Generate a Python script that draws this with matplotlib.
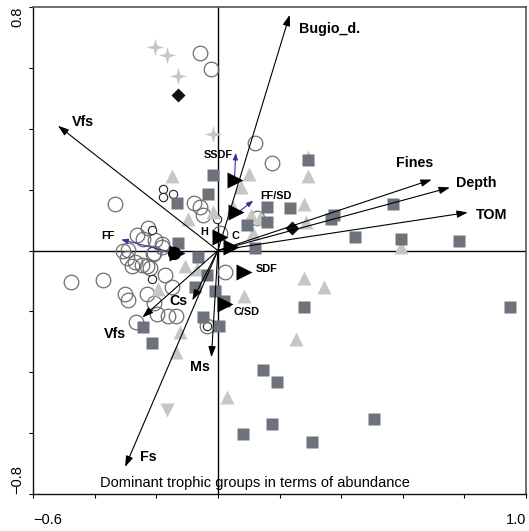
"""
CCA biplot: samples coded by dominant trophic group (abundance),
environmental arrows and trophic-group centroids.
"""

import matplotlib
matplotlib.use("Agg")
import matplotlib.pyplot as plt
from matplotlib.path import Path

plt.rcParams["font.family"] = ["Liberation Sans", "DejaVu Sans"]

# ── Sample scores, one pair of lists per symbol ──────────────────────────────
circle_x = [-0.057, -0.021, 0.119, 0.177, -0.333, -0.076, -0.057, -0.047, 0.128,
            0.008, -0.262, -0.226, -0.242, -0.180, -0.203, -0.294, -0.307, -0.268,
            -0.246, -0.229, -0.278, -0.210, -0.220, -0.171, -0.476, -0.372, -0.148,
            -0.301, -0.291, -0.229, -0.207, -0.197, -0.161, -0.135, -0.265, 0.024,
            -0.034, -0.291, -0.207, -0.180]
circle_y = [0.649, 0.597, 0.354, 0.289, 0.154, 0.157, 0.144, 0.118, 0.108,
            0.059, 0.052, 0.075, 0.039, 0.020, 0.033, -0.023, -0.003, -0.039,
            -0.046, -0.052, -0.052, -0.013, -0.056, -0.079, -0.102, -0.098, -0.121,
            -0.144, -0.161, -0.144, -0.174, -0.207, -0.216, -0.216, -0.236, -0.069,
            -0.249, 0.003, -0.007, 0.013]

small_circle_x = [-0.177, -0.177, -0.145, -0.002, -0.213, -0.213, -0.034]
small_circle_y = [0.203, 0.177, 0.187, 0.105, 0.066, -0.095, -0.249]

triangle_x = [-0.148, 0.076, 0.102, -0.096, -0.015, 0.050, 0.106, 0.138, 0.115,
              0.291, 0.281, 0.285, 0.593, 0.294, -0.106, -0.067, -0.193, -0.122,
              -0.135, 0.028, 0.086, 0.278, 0.343, 0.252]
triangle_y = [0.246, 0.210, 0.252, 0.105, 0.125, 0.144, 0.118, 0.108, 0.059,
              0.246, 0.154, 0.092, 0.013, 0.308, -0.052, -0.062, -0.125, -0.269,
              -0.334, -0.482, -0.151, -0.089, -0.121, -0.292]

square_x = [-0.015, -0.031, -0.132, -0.128, -0.063, -0.034, 0.158, 0.161, 0.096,
            0.233, 0.122, 0.291, 0.376, 0.366, 0.567, 0.444, 0.593, 0.782, 0.281,
            0.948, 0.193, 0.177, 0.307, 0.506, -0.073, -0.008, 0.021, -0.047,
            0.005, -0.242, -0.213, 0.145, 0.083]
square_y = [0.249, 0.187, 0.157, 0.026, -0.020, -0.082, 0.144, 0.095, 0.085,
            0.138, 0.007, 0.298, 0.118, 0.102, 0.154, 0.043, 0.039, 0.030, -0.184,
            -0.184, -0.433, -0.570, -0.630, -0.554, -0.121, -0.134, -0.167, -0.220,
            -0.249, -0.252, -0.305, -0.393, -0.603]

star_x = [-0.203, -0.164, -0.128, -0.015]
star_y = [0.669, 0.643, 0.574, 0.384]

diamond_x = [-0.128, 0.239]
diamond_y = [0.511, 0.075]

down_tri_x = [-0.164]
down_tri_y = [-0.525]

# ── Trophic group centroids ──────────────────────────────────────────────────
group_names = ["SSDF", "FF/SD", "FF", "H", "C", "SDF", "C/SD"]
group_x = [0.057, 0.060, -0.133, 0.008, 0.041, 0.086, 0.024]
group_y = [0.233, 0.125, -0.007, 0.043, 0.013, -0.069, -0.177]
group_label_x = [0.002, 0.190, -0.356, -0.044, 0.057, 0.158, 0.093]
group_label_y = [0.315, 0.180, 0.046, 0.062, 0.046, -0.062, -0.203]

# species arrows (start, end) for three groups
sp_names = ["SSDF", "FF/SD", "FF"]
sp_x0 = [0.054, 0.073, -0.135]
sp_y0 = [0.239, 0.131, -0.010]
sp_x1 = [0.058, 0.115, -0.314]
sp_y1 = [0.321, 0.164, 0.036]

# ── Environmental variables ──────────────────────────────────────────────────
env_names = ["Bugio_d.", "Vfs", "Fines", "Depth", "TOM", "Cs", "Vfs", "Fs", "Ms"]
env_x = [0.233, -0.519, 0.694, 0.753, 0.811, -0.083, -0.245, -0.301, -0.021]
env_y = [0.774, 0.410, 0.233, 0.207, 0.125, -0.164, -0.220, -0.711, -0.351]
env_label_x = [0.262, -0.473, 0.639, 0.772, 0.837, -0.128, -0.333, -0.226, -0.057]
env_label_y = [0.728, 0.423, 0.289, 0.223, 0.118, -0.167, -0.275, -0.679, -0.384]
env_ha = ["left", "left", "center", "left", "left", "center", "center", "center", "center"]

SQUARE = "#6d737a"
LIGHT = "#c6c6c6"
CIRCLE_EDGE = "#6e6e6e"

# four-point sparkle
_r_out, _r_in = 1.0, 0.3
STAR = Path([(0, _r_out), (_r_in * 0.7, _r_in * 0.7), (_r_out, 0), (_r_in * 0.7, -_r_in * 0.7),
             (0, -_r_out), (-_r_in * 0.7, -_r_in * 0.7), (-_r_out, 0), (-_r_in * 0.7, _r_in * 0.7),
             (0, _r_out)], closed=True)


def plot_biplot():
    fig = plt.figure(figsize=(5.29, 5.31), dpi=100)
    ax = fig.add_axes([33 / 529, 37 / 531, 493 / 529, 487 / 531])
    ax.set_xlim(-0.6, 1.0)
    ax.set_ylim(-0.8, 0.8)

    ax.axhline(0, color="black", lw=1.0, zorder=1)
    ax.axvline(0, color="black", lw=1.0, zorder=1)

    # open circles are hollow: overlapping outlines stay visible
    ax.plot(circle_x, circle_y, "o", ms=10.5, mfc="none", mec=CIRCLE_EDGE, mew=0.9,
            ls="none", zorder=2)
    ax.plot(small_circle_x, small_circle_y, "o", ms=6, mfc="white", mec="#222222", mew=0.8,
            ls="none", zorder=2.1)
    ax.plot(triangle_x, triangle_y, "^", ms=10, color=LIGHT, mec="none", ls="none", zorder=2.2)
    ax.plot(square_x, square_y, "s", ms=8.3, color=SQUARE, mec="none", ls="none", zorder=2.3)
    ax.plot(star_x, star_y, marker=STAR, ms=12.5, color=LIGHT, mec="none", ls="none", zorder=2.2)
    ax.plot(diamond_x, diamond_y, "D", ms=7, color="#111111", mec="none", ls="none", zorder=2.4)
    ax.plot(down_tri_x, down_tri_y, "v", ms=10, color=LIGHT, mec="none", ls="none", zorder=2.2)

    # environmental arrows
    for name, x, y, lx, ly, ha in zip(env_names, env_x, env_y, env_label_x, env_label_y, env_ha):
        ax.annotate("", xy=(x, y), xytext=(0, 0),
                    arrowprops=dict(arrowstyle="-|>,head_length=0.65,head_width=0.22",
                                    color="black", lw=0.8, shrinkA=0, shrinkB=0),
                    zorder=3)
        ax.text(lx, ly, name, ha=ha, va="center", fontsize=10.3, fontweight="bold", zorder=4)

    # species arrows (blue)
    for x0, y0, x1, y1 in zip(sp_x0, sp_y0, sp_x1, sp_y1):
        ax.annotate("", xy=(x1, y1), xytext=(x0, y0),
                    arrowprops=dict(arrowstyle="-|>,head_length=0.4,head_width=0.15",
                                    color="#3434a0", lw=0.8, shrinkA=0, shrinkB=0),
                    zorder=3.5)

    # trophic group centroids
    ax.plot([group_x[2] - 0.008], [group_y[2]], "o", ms=8.5, color="black", ls="none", zorder=3.6)
    ax.plot(group_x, group_y, ">", ms=12, color="black", mec="none", ls="none", zorder=3.6)
    for name, lx, ly in zip(group_names, group_label_x, group_label_y):
        ax.text(lx, ly, name, ha="center", va="center", fontsize=7.8, fontweight="bold", zorder=4)

    ax.text(-0.382, -0.777, "Dominant trophic groups in terms of abundance",
            ha="left", va="baseline", fontsize=10.5, zorder=4)

    # axes / ticks
    xt = [-0.6, -0.4, -0.2, 0.0, 0.2, 0.4, 0.6, 0.8, 1.0]
    yt = [-0.8, -0.6, -0.4, -0.2, 0.0, 0.2, 0.4, 0.6, 0.8]
    ax.set_xticks(xt)
    ax.set_xticklabels(["\u22120.6"] + [""] * 7 + ["1.0"])
    ax.set_yticks(yt)
    ax.set_yticklabels(["\u22120.8"] + [""] * 7 + ["0.8"])
    ax.tick_params(axis="x", direction="out", length=3, width=0.8, pad=11, labelsize=10.5)
    ax.tick_params(axis="y", direction="out", length=3, width=0.8, pad=3, labelsize=10.5)
    xl = ax.get_xticklabels()
    xl[0].set_ha("left")
    xl[-1].set_ha("right")
    yl = ax.get_yticklabels()
    for lab in yl:
        lab.set_rotation(90)
    yl[0].set_va("bottom")
    yl[-1].set_va("top")

    for side in ["left", "bottom"]:
        ax.spines[side].set_color("#111111")
        ax.spines[side].set_linewidth(1.0)
    for side in ["top", "right"]:
        ax.spines[side].set_color("#555555")
        ax.spines[side].set_linewidth(1.2)

    fig.savefig("out.png", dpi=100)


if __name__ == "__main__":
    plot_biplot()
